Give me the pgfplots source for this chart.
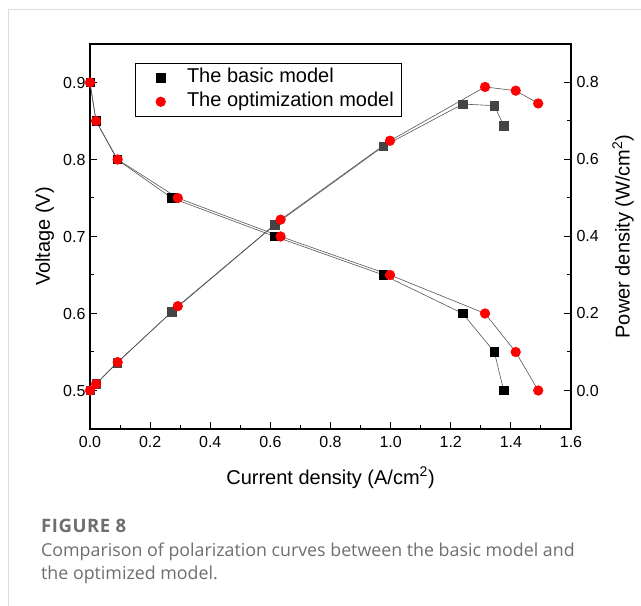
\documentclass[border=0pt]{standalone}
\usepackage{pgfplots}
\pgfplotsset{compat=1.18}
\usepackage{pgfplotstable}
\usepackage{fontspec}
\setmainfont{Liberation Sans}
\newfontfamily\capfont{Open Sans}

\definecolor{markgray}{HTML}{444444}
\definecolor{linegray}{HTML}{555555}
\definecolor{capgray}{HTML}{6E6E6E}
\definecolor{framegray}{HTML}{DDDDDD}

% current density (A/cm^2), voltage (V)
\pgfplotstableread{
i V
0 0.9
0.02 0.85
0.09 0.8
0.272 0.75
0.615 0.7
0.976 0.65
1.24 0.6
1.345 0.55
1.376 0.5
}\basicV
\pgfplotstableread{
i V
0 0.9
0.02 0.85
0.092 0.8
0.292 0.75
0.634 0.7
0.998 0.65
1.314 0.6
1.416 0.55
1.491 0.5
}\optV
% current density (A/cm^2), power density (W/cm^2)
\pgfplotstableread{
i P
0 0
0.02 0.017
0.09 0.072
0.272 0.204
0.615 0.4305
0.976 0.6344
1.24 0.744
1.345 0.7398
1.376 0.688
}\basicP
\pgfplotstableread{
i P
0 0
0.02 0.017
0.092 0.0736
0.292 0.219
0.634 0.4438
0.998 0.6487
1.314 0.7884
1.416 0.7788
1.491 0.7455
}\optP

\pgfplotsset{
  common/.style={
    at={(90bp,177bp)}, anchor=south west,
    scale only axis, width=481bp, height=385bp,
    xmin=0, xmax=1.6,
    clip=false,
    axis line style={line width=1.1bp},
    tick style={line width=1bp, black},
    major tick length=7bp, minor tick length=4bp,
    tick align=inside,
    ticklabel style={font=\fontsize{16bp}{18bp}\selectfont},
    label style={font=\fontsize{20bp}{22bp}\selectfont},
    /pgf/number format/assume math mode=true,
    /pgf/number format/.cd, fixed, fixed zerofill, precision=1,
  },
}

\begin{document}
\begin{tikzpicture}[x=1bp,y=1bp]
\path[use as bounding box] (0,0) rectangle (641,606);
\draw[framegray, line width=1.2bp] (8.5,-5) -- (8.5,596.5) -- (660,596.5);

\begin{axis}[common,
  ymin=0.45, ymax=0.95,
  xtick={0,0.2,...,1.6}, minor x tick num=1,
  ytick={0.5,0.6,...,0.9}, minor y tick num=1,
  xtick pos=bottom, ytick pos=left,
  xticklabel style={yshift=-4bp},
  yticklabel style={xshift=-1bp},
  xlabel={Current density (A/cm\textsuperscript{2})},
  ylabel={Voltage (V)},
  xlabel style={at={(axis description cs:0.5,-0.127)}, anchor=center},
  ylabel style={at={(axis description cs:-0.094,0.5)}, anchor=center, rotate=0},
  legend style={at={(rel axis cs:0.0936,0.951)}, anchor=north west,
    draw=black, line width=0.8bp, font=\fontsize{20bp}{22bp}\selectfont,
    inner xsep=7bp, inner ysep=2.5bp, row sep=0bp,
    nodes={inner xsep=1bp, inner ysep=2bp, text height=15bp, text depth=5bp}},
  legend cell align=left,
  legend image code/.code={%
    \path (-18bp,0) (25bp,0);
    \draw[#1] plot coordinates {(0bp,0bp)};},
]
\addplot[linegray, line width=0.6bp, mark=square*, mark size=4.2bp,
  mark options={black, fill=black, solid}] table[x=i,y=V] {\basicV};
\addlegendentry{The basic model}
\addplot[linegray, line width=0.6bp, mark=*, mark size=4.8bp,
  mark options={red, fill=red, solid}] table[x=i,y=V] {\optV};
\addlegendentry{The optimization model}
\end{axis}

\begin{axis}[common,
  ymin=-0.1, ymax=0.9,
  axis x line=none,
  axis y line*=right,
  ytick={0,0.2,...,0.8}, minor y tick num=1,
  yticklabel style={xshift=2bp},
  ylabel={Power density (W/cm\textsuperscript{2})},
  ylabel style={at={(axis description cs:1.108,0.5)}, anchor=center, rotate=0},
]
\addplot[linegray, line width=0.6bp, mark=square*, mark size=4.2bp,
  mark options={markgray, fill=markgray, solid}] table[x=i,y=P] {\basicP};
\addplot[linegray, line width=0.6bp, mark=*, mark size=4.8bp,
  mark options={red, fill=red, solid}] table[x=i,y=P] {\optP};
\end{axis}

\node[anchor=base west, inner sep=0, text=capgray,
  font=\capfont\bfseries\fontsize{18.5bp}{20bp}\selectfont\addfontfeatures{LetterSpace=3}]
  at (41,73.3) {FIGURE 8};
\node[anchor=base west, inner sep=0, text=capgray,
  font=\capfont\fontsize{17.8bp}{20bp}\selectfont] at (41,49.3)
  {Comparison of polarization curves between the basic model and};
\node[anchor=base west, inner sep=0, text=capgray,
  font=\capfont\fontsize{17.8bp}{20bp}\selectfont] at (41,26)
  {the optimized model.};
\end{tikzpicture}
\end{document}
